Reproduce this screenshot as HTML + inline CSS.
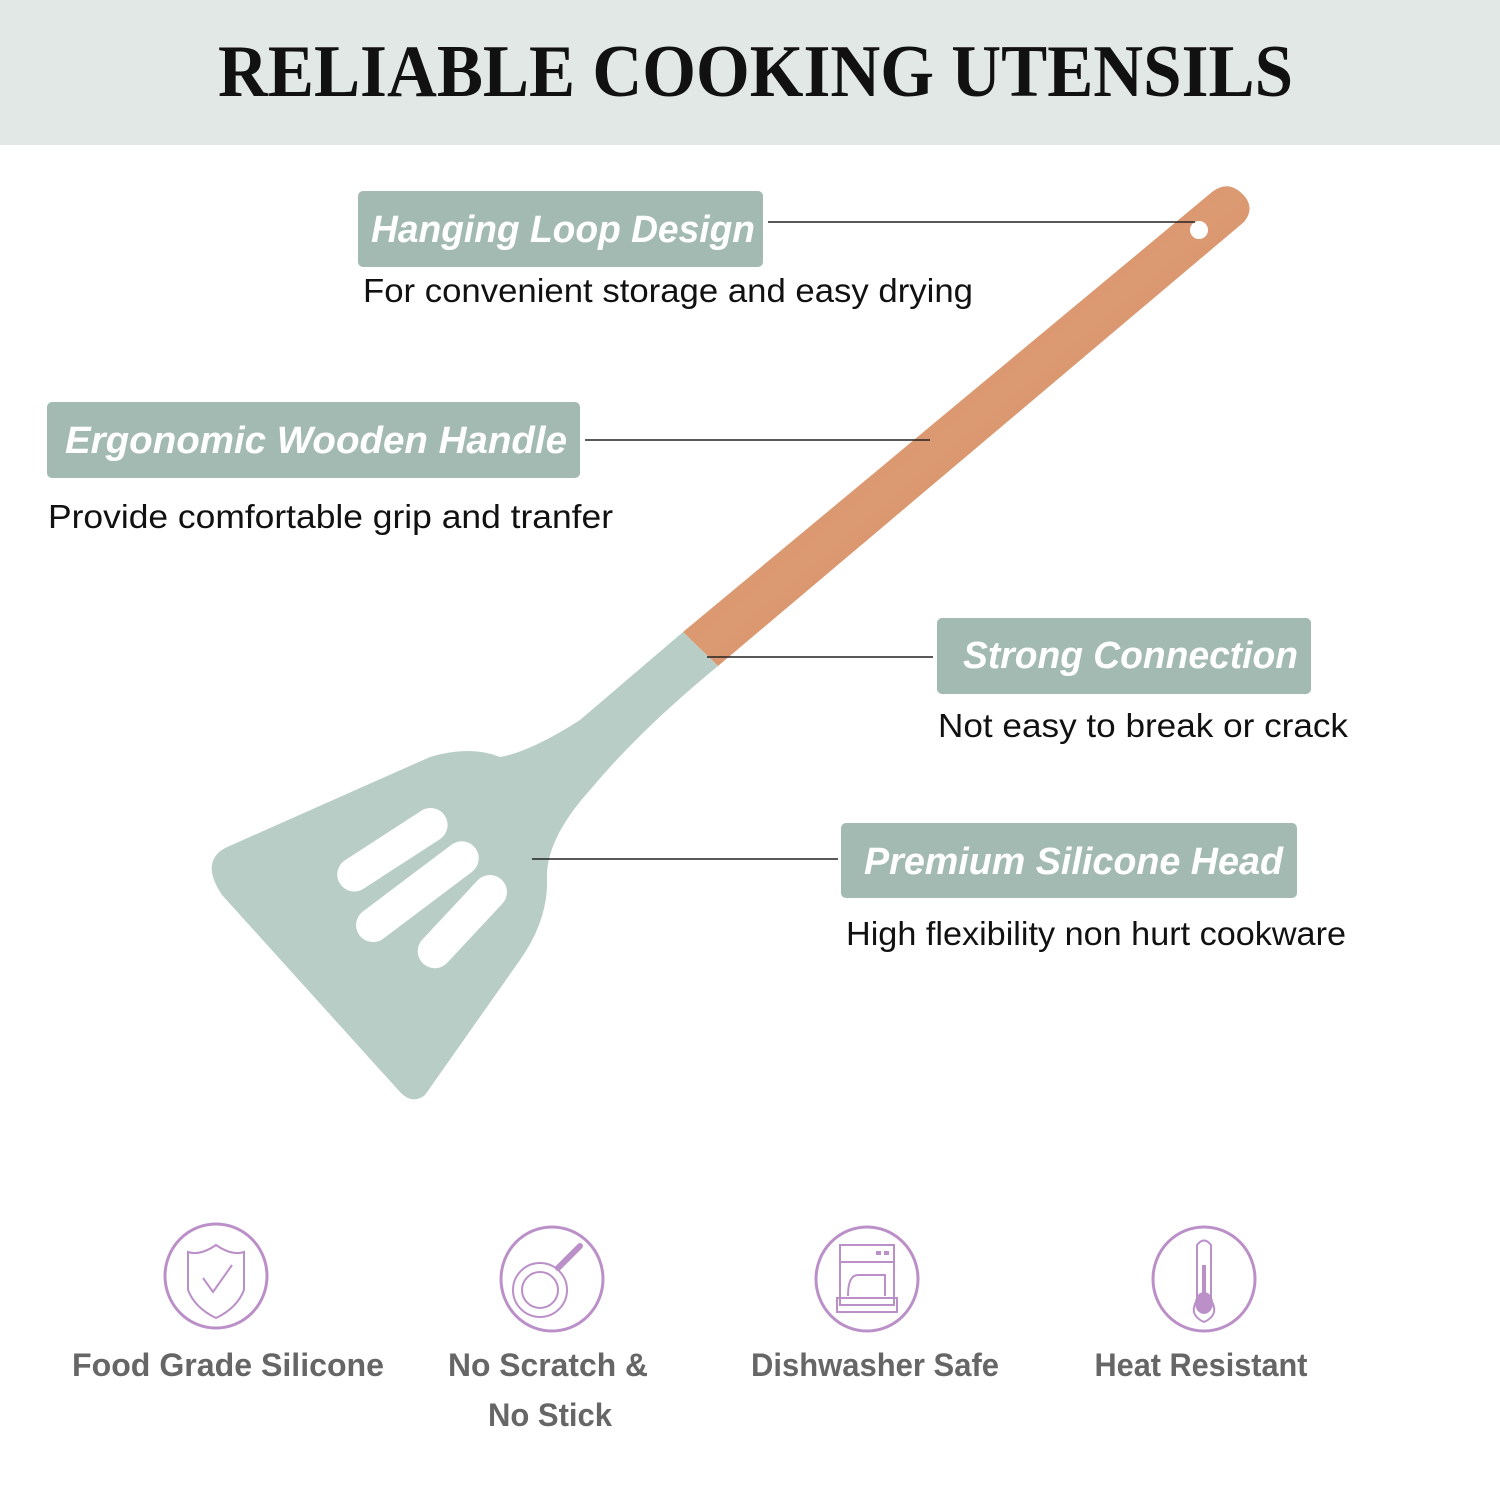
<!DOCTYPE html>
<html><head><meta charset="utf-8"><style>
html,body{margin:0;padding:0;background:#fff;}
svg{display:block}
</style></head><body>
<svg width="1500" height="1500" viewBox="0 0 1500 1500" xmlns="http://www.w3.org/2000/svg">
<defs>
<linearGradient id="wood" x1="0" y1="0" x2="1" y2="1">
<stop offset="0" stop-color="#d08760"/><stop offset="0.5" stop-color="#dc9a72"/><stop offset="1" stop-color="#c47a54"/>
</linearGradient>
</defs>
<rect x="0" y="0" width="1500" height="145" fill="#e1e8e5"/>
<text x="218" y="96" font-family="Liberation Serif, serif" font-weight="bold" font-size="74" textLength="1075" lengthAdjust="spacingAndGlyphs" fill="#111">RELIABLE COOKING UTENSILS</text>

<path d="M683,632 L1212,192 Q1230,178 1246,198 Q1254,210 1244,222 L718,666 Z" fill="url(#wood)"/>
<circle cx="1199" cy="230" r="9" fill="#fff"/>
<path d="M683,632 L718,666 Q640,730 590,790 Q545,840 547,880 Q548,920 520,960 L425,1095 Q412,1105 400,1092 L222,895 Q200,862 225,848 L430,757 Q470,745 500,757 Q530,752 580,720 Z" fill="#b9cdc7"/>
<g fill="#fff">
<rect x="330" y="833" width="125" height="34" rx="17" transform="rotate(-33 392 850)"/>
<rect x="345" y="875" width="145" height="34" rx="17" transform="rotate(-37 417 892)"/>
<rect x="405" y="905" width="115" height="34" rx="17" transform="rotate(-47 462 922)"/>
</g>

<g stroke="#222" stroke-width="1.6">
<line x1="768" y1="222" x2="1195" y2="222"/>
<line x1="585" y1="440" x2="930" y2="440"/>
<line x1="707" y1="657" x2="933" y2="657"/>
<line x1="532" y1="859" x2="838" y2="859"/>
</g>

<g fill="#a3bab3">
<rect x="358" y="191" width="405" height="76" rx="5"/>
<rect x="47" y="402" width="533" height="76" rx="5"/>
<rect x="937" y="618" width="374" height="76" rx="5"/>
<rect x="841" y="823" width="456" height="75" rx="5"/>
</g>
<g font-family="Liberation Sans, sans-serif" font-weight="bold" font-style="italic" font-size="38" fill="#fff">
<text x="371" y="242" textLength="384" lengthAdjust="spacingAndGlyphs">Hanging Loop Design</text>
<text x="65" y="453" textLength="502" lengthAdjust="spacingAndGlyphs">Ergonomic Wooden Handle</text>
<text x="963" y="668" textLength="335" lengthAdjust="spacingAndGlyphs">Strong Connection</text>
<text x="864" y="874" textLength="419" lengthAdjust="spacingAndGlyphs">Premium Silicone Head</text>
</g>
<g font-family="Liberation Sans, sans-serif" font-size="33" fill="#111">
<text x="363" y="302" textLength="610" lengthAdjust="spacingAndGlyphs">For convenient storage and easy drying</text>
<text x="48" y="528" textLength="565" lengthAdjust="spacingAndGlyphs">Provide comfortable grip and tranfer</text>
<text x="938" y="737" textLength="410" lengthAdjust="spacingAndGlyphs">Not easy to break or crack</text>
<text x="846" y="945" textLength="500" lengthAdjust="spacingAndGlyphs">High flexibility non hurt cookware</text>
</g>

<g fill="none" stroke="#bb90c8" stroke-width="3">
<ellipse cx="216" cy="1276" rx="51" ry="52"/>
<path d="M216,1245 Q200,1256 188,1252 L188,1290 Q195,1308 216,1318 Q237,1308 244,1290 L244,1252 Q232,1256 216,1245 Z" stroke-width="2"/>
<path d="M203,1278 L213,1292 L232,1265" stroke-width="2"/>
<ellipse cx="552" cy="1279" rx="51" ry="52"/>
<circle cx="540" cy="1290" r="27" stroke-width="2"/>
<circle cx="540" cy="1290" r="18" stroke-width="2"/>
<path d="M558,1268 L580,1246" stroke-width="6" stroke-linecap="round"/>
<ellipse cx="867" cy="1279" rx="51" ry="52"/>
<rect x="840" y="1245" width="54" height="60" stroke-width="2"/>
<line x1="840" y1="1262" x2="894" y2="1262" stroke-width="2"/>
<path d="M837,1298 L897,1298 L897,1312 L837,1312 Z" stroke-width="2"/>
<path d="M848,1296 Q848,1275 858,1275 L885,1275 L885,1296" stroke-width="2"/>
<ellipse cx="1204" cy="1279" rx="51" ry="52"/>
<path d="M1197,1300 L1197,1245 Q1204,1236 1211,1245 L1211,1300 Q1220,1315 1204,1322 Q1188,1315 1197,1300 Z" stroke-width="2"/>
</g>
<g fill="#bb90c8">
<rect x="876" y="1251" width="5" height="4"/><rect x="884" y="1251" width="5" height="4"/>
<ellipse cx="1204" cy="1303" rx="9" ry="11"/>
<rect x="1202" y="1265" width="4" height="35"/>
</g>
<g font-family="Liberation Sans, sans-serif" font-weight="bold" font-size="32" fill="#666" text-anchor="middle">
<text x="228" y="1376" textLength="312" lengthAdjust="spacingAndGlyphs">Food Grade Silicone</text>
<text x="548" y="1376" textLength="200" lengthAdjust="spacingAndGlyphs">No Scratch &amp;</text>
<text x="550" y="1426" textLength="124" lengthAdjust="spacingAndGlyphs">No Stick</text>
<text x="875" y="1376" textLength="248" lengthAdjust="spacingAndGlyphs">Dishwasher Safe</text>
<text x="1201" y="1376" textLength="213" lengthAdjust="spacingAndGlyphs">Heat Resistant</text>
</g>
</svg>
</body></html>
